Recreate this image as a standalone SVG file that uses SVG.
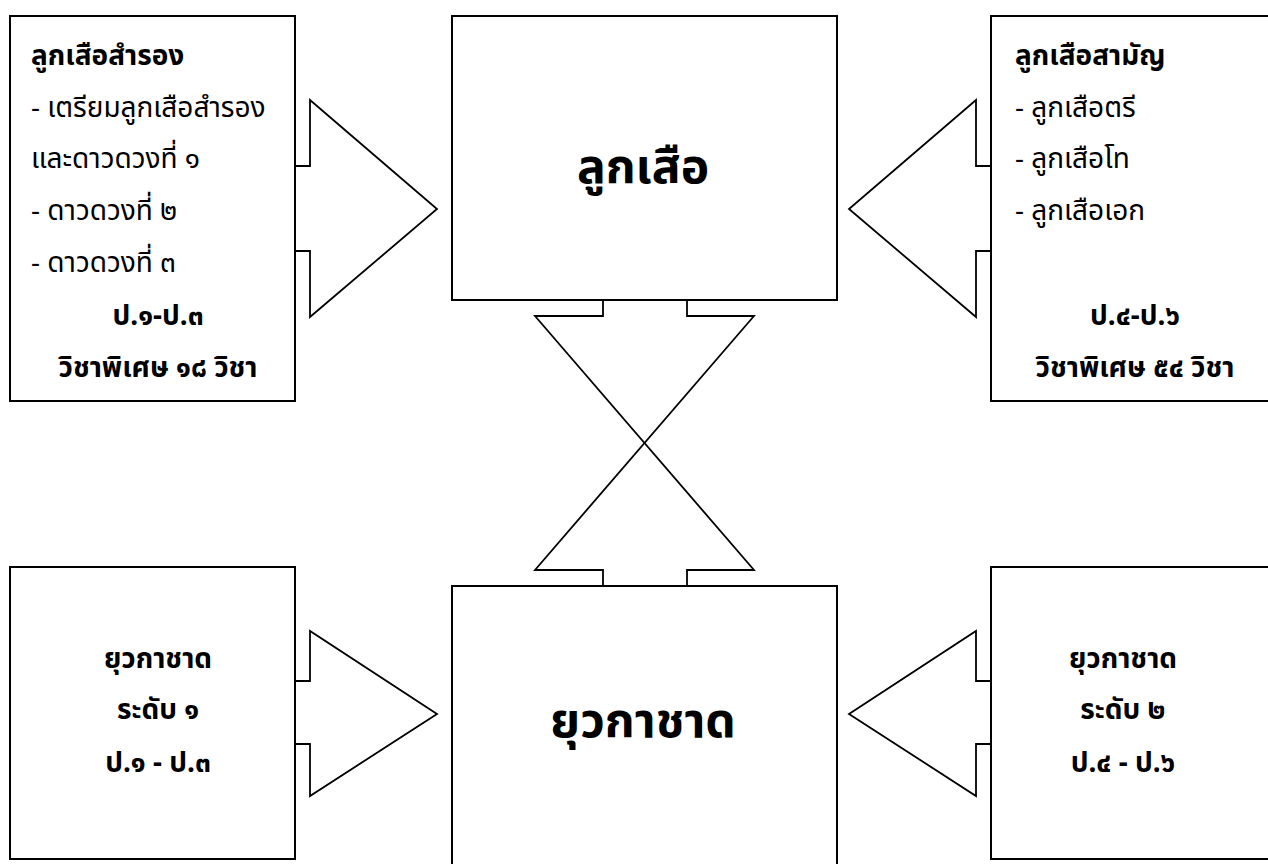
<svg xmlns="http://www.w3.org/2000/svg" width="1268" height="864" viewBox="0 0 1268 864">
<style>
.box{fill:#fff;stroke:#000;stroke-width:2}
.arr{fill:#fff;stroke:#000;stroke-width:1.8;stroke-linejoin:miter}
text{font-family:'Noto Sans','Noto Sans Thai','DejaVu Sans',sans-serif;fill:#000}
.s{font-size:28px}
.b{font-weight:bold}
.m{text-anchor:middle}
.big{font-size:48px;font-weight:bold;text-anchor:middle}
</style>
<rect width="1268" height="864" fill="#fff"/>
<g id="connectors">
<polyline class="arr" points="295,166 310,166 310,100 437,209 310,317 310,251 295,251"/>
<polyline class="arr" points="991,166 976,166 976,100 849,209 976,317 976,251 991,251"/>
<polyline class="arr" points="295,681 310,681 310,631 437,714 310,796 310,744 295,744"/>
<polyline class="arr" points="991,681 976,681 976,631 849,714 976,796 976,744 991,744"/>
<polyline class="arr" points="603,300 603,316 535,316 754,570 687,570 687,586"/>
<polyline class="arr" points="687,300 687,316 754,316 535,570 603,570 603,586"/>
</g>
<g id="node-scout">
<rect class="box" x="452" y="16" width="385" height="284"/>
<text class="big" x="643" y="183">ลูกเสือ</text>
</g>
<g id="node-guide">
<rect class="box" x="452" y="586" width="385" height="290"/>
<text class="big" x="643" y="737">ยุวกาชาด</text>
</g>
<g id="node-cub">
<rect class="box" x="10" y="16" width="285" height="385"/>
<text class="s b" x="31" y="65">ลูกเสือสำรอง</text>
<text class="s" x="31" y="117">- เตรียมลูกเสือสำรอง</text>
<text class="s" x="31" y="168">และดาวดวงที่ ๑</text>
<text class="s" x="31" y="220">- ดาวดวงที่ ๒</text>
<text class="s" x="31" y="272">- ดาวดวงที่ ๓</text>
<text class="s b m" x="158" y="325">ป.๑-ป.๓</text>
<text class="s b m" x="158" y="377">วิชาพิเศษ ๑๘ วิชา</text>
</g>
<g id="node-ordinary">
<rect class="box" x="991" y="16" width="290" height="385"/>
<text class="s b" x="1015" y="65">ลูกเสือสามัญ</text>
<text class="s" x="1015" y="117">- ลูกเสือตรี</text>
<text class="s" x="1015" y="168">- ลูกเสือโท</text>
<text class="s" x="1015" y="220">- ลูกเสือเอก</text>
<text class="s b m" x="1135" y="325">ป.๔-ป.๖</text>
<text class="s b m" x="1135" y="377">วิชาพิเศษ ๕๔ วิชา</text>
</g>
<g id="node-guide1">
<rect class="box" x="10" y="567" width="285" height="292"/>
<text class="s b m" x="158" y="668">ยุวกาชาด</text>
<text class="s b m" x="158" y="719">ระดับ ๑</text>
<text class="s b m" x="158" y="772">ป.๑ - ป.๓</text>
</g>
<g id="node-guide2">
<rect class="box" x="991" y="567" width="290" height="292"/>
<text class="s b m" x="1123" y="668">ยุวกาชาด</text>
<text class="s b m" x="1123" y="719">ระดับ ๒</text>
<text class="s b m" x="1123" y="772">ป.๔ - ป.๖</text>
</g>
</svg>
